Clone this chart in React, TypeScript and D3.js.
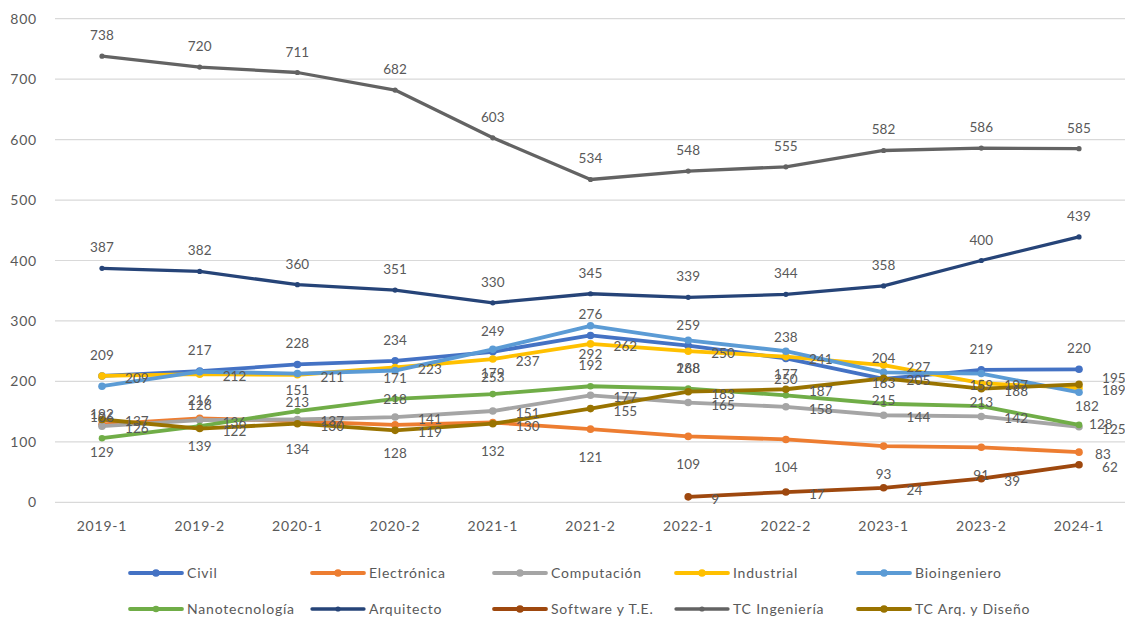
import React from "react";
import * as d3 from "d3";

// Semesters on the x axis
const categories = [
  "2019-1", "2019-2", "2020-1", "2020-2", "2021-1", "2021-2",
  "2022-1", "2022-2", "2023-1", "2023-2", "2024-1",
];

// Students per programme and semester
const civil = [209, 217, 228, 234, 249, 276, 259, 238, 204, 219, 220];
const electronica = [129, 139, 134, 128, 132, 121, 109, 104, 93, 91, 83];
const computacion = [126, 136, 137, 141, 151, 177, 165, 158, 144, 142, 125];
const industrial = [209, 212, 211, 223, 237, 262, 250, 241, 227, 197, 189];
const bioingeniero = [192, 216, 213, 218, 253, 292, 268, 250, 215, 213, 182];
const nanotecnologia = [106, 126, 151, 171, 179, 192, 188, 177, 163, 159, 128];
const arquitecto = [387, 382, 360, 351, 330, 345, 339, 344, 358, 400, 439];
const software: (number | null)[] = [null, null, null, null, null, null, 9, 17, 24, 39, 62];
const tcIngenieria = [738, 720, 711, 682, 603, 534, 548, 555, 582, 586, 585];
const tcArqDiseno = [137, 122, 130, 119, 130, 155, 183, 187, 205, 188, 195];

const yTicks = [0, 100, 200, 300, 400, 500, 600, 700, 800];

type Placement = "above" | "below" | "right";

interface Series {
  name: string;
  values: (number | null)[];
  color: string;
  label: Placement;
  width: number;
  marker: number;
}

const series: Series[] = [
  { name: "Civil", values: civil, color: "#4472C4", label: "above", width: 3.8, marker: 3.8 },
  { name: "Electrónica", values: electronica, color: "#ED7D31", label: "below", width: 3.8, marker: 3.8 },
  { name: "Computación", values: computacion, color: "#A5A5A5", label: "right", width: 3.8, marker: 3.8 },
  { name: "Industrial", values: industrial, color: "#FFC000", label: "right", width: 3.8, marker: 3.8 },
  { name: "Bioingeniero", values: bioingeniero, color: "#5B9BD5", label: "below", width: 3.8, marker: 3.8 },
  { name: "Nanotecnología", values: nanotecnologia, color: "#70AD47", label: "above", width: 3.8, marker: 3.3 },
  { name: "Arquitecto", values: arquitecto, color: "#264478", label: "above", width: 3.3, marker: 2.6 },
  { name: "Software y T.E.", values: software, color: "#9E480E", label: "right", width: 3.8, marker: 3.8 },
  { name: "TC Ingeniería", values: tcIngenieria, color: "#636363", label: "above", width: 3.3, marker: 2.6 },
  { name: "TC Arq. y Diseño", values: tcArqDiseno, color: "#997300", label: "right", width: 3.8, marker: 3.8 },
];

// Hand-tuned placement for a few labels at the end of the lines
const labelNudges: Record<string, { place?: Placement; dx: number; dy: number }> = {
  "Electrónica|10": { place: "right", dx: -7, dy: 0 },
  "Nanotecnología|10": { place: "right", dx: -13, dy: -3 },
  "TC Arq. y Diseño|10": { dx: 0, dy: -8 },
  "Bioingeniero|10": { dx: 8, dy: -14 },
};

const W = 1125;
const H = 620;
const FONT = "Lato, 'Open Sans', 'DejaVu Sans', sans-serif";
const TEXT = "#595959";

export default function App() {
  const x = d3.scalePoint<string>().domain(categories).range([102, 1079]);
  const y = d3.scaleLinear().domain([0, 800]).range([502.3, 18.7]);

  const line = d3
    .line<number | null>()
    .defined((d) => d !== null)
    .x((_, i) => x(categories[i]) as number)
    .y((d) => y(d as number));

  const labelPos = (s: Series, i: number, v: number) => {
    const px = x(categories[i]) as number;
    const py = y(v);
    const nudge = labelNudges[`${s.name}|${i}`] || { dx: 0, dy: 0 };
    const place = nudge.place || s.label;
    if (place === "above") return { x: px + nudge.dx, y: py - 16 + nudge.dy, anchor: "middle" };
    if (place === "below") return { x: px + nudge.dx, y: py + 33 + nudge.dy, anchor: "middle" };
    return { x: px + 23 + nudge.dx, y: py + 7 + nudge.dy, anchor: "start" };
  };

  return (
    <svg
      width={W}
      height={H}
      style={{ position: "absolute", left: 0, top: 0, background: "#fff" }}
      fontFamily={FONT}
    >
      {/* gridlines and y ticks */}
      {yTicks.map((t) => (
        <g key={t}>
          <line x1={55} x2={1125} y1={y(t)} y2={y(t)} stroke="#D9D9D9" strokeWidth={1.2} />
          <text x={37} y={y(t) + 5} textAnchor="end" fontSize={14} fill={TEXT} letterSpacing={0.8}>
            {t}
          </text>
        </g>
      ))}

      {/* x tick labels */}
      {categories.map((c) => (
        <text key={c} x={x(c)} y={531} textAnchor="middle" fontSize={14} fill={TEXT} letterSpacing={0.8}>
          {c}
        </text>
      ))}

      {/* lines with markers */}
      {series.map((s) => (
        <g key={s.name}>
          <path
            d={line(s.values) || ""}
            fill="none"
            stroke={s.color}
            strokeWidth={s.width}
            strokeLinejoin="round"
            strokeLinecap="round"
          />
          {s.values.map((v, i) =>
            v === null ? null : (
              <circle key={i} cx={x(categories[i])} cy={y(v)} r={s.marker} fill={s.color} />
            )
          )}
        </g>
      ))}

      {/* data labels */}
      {series.map((s) => (
        <g key={s.name + "-labels"}>
          {s.values.map((v, i) => {
            if (v === null) return null;
            const p = labelPos(s, i, v);
            return (
              <text
                key={i}
                x={p.x}
                y={p.y}
                textAnchor={p.anchor as any}
                fontSize={13.5}
                fill={TEXT}
                letterSpacing={0.1}
              >
                {v}
              </text>
            );
          })}
        </g>
      ))}

      {/* legend */}
      {series.map((s, i) => {
        const col = i % 5;
        const row = Math.floor(i / 5);
        const lx = 130 + col * 182;
        const ly = 573 + row * 36;
        return (
          <g key={s.name + "-legend"}>
            <line x1={lx} x2={lx + 52} y1={ly} y2={ly} stroke={s.color} strokeWidth={s.width} strokeLinecap="round" />
            <circle cx={lx + 26} cy={ly} r={s.marker} fill={s.color} />
            <text x={lx + 57} y={ly + 5} fontSize={14} fill={TEXT} letterSpacing={0.8}>
              {s.name}
            </text>
          </g>
        );
      })}
    </svg>
  );
}
